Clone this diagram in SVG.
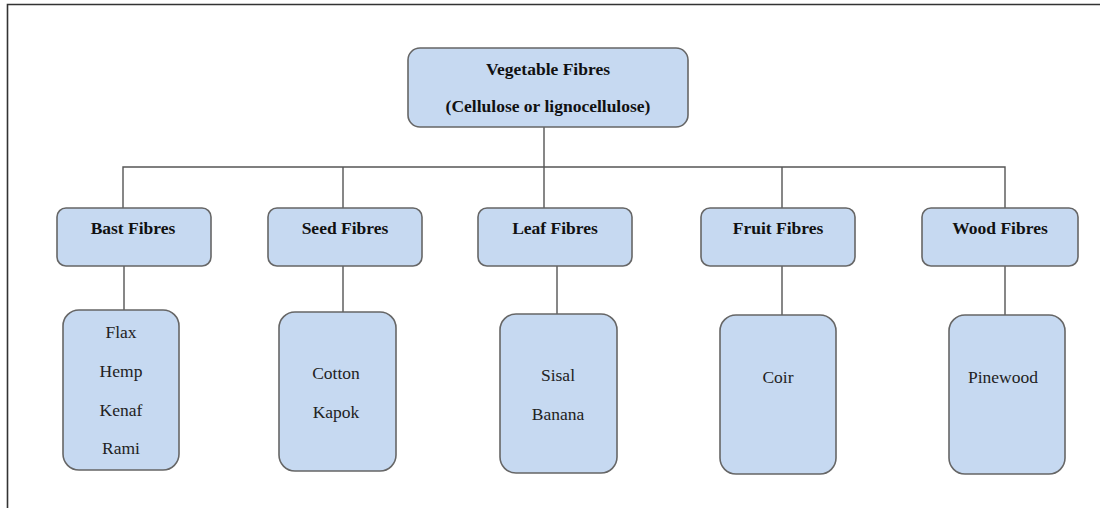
<svg xmlns="http://www.w3.org/2000/svg" width="1100" height="508" viewBox="0 0 1100 508">
<style>
.box{fill:#c6d9f1;stroke:#666;stroke-width:1.6}
.ln{stroke:#555;stroke-width:1.4;fill:none}
.h{font-family:'Liberation Serif','DejaVu Serif','Times New Roman',serif;font-weight:bold;font-size:17.5px;fill:#111;text-anchor:middle}
.t{font-family:'Liberation Serif','DejaVu Serif','Times New Roman',serif;font-size:17.5px;fill:#222;text-anchor:middle}
</style>
<rect width="1100" height="508" fill="#fff"/>
<path d="M7.5 508 V4.5 H1100" stroke="#333" stroke-width="1.6" fill="none"/>
<g id="connectors">
<path class="ln" d="M544 127 V167 M123 208 V167 H1005 V208 M343 167 V208 M544 167 V208 M782 167 V208"/>
<path class="ln" d="M124 266 V310 M343 266 V312 M557 266 V314 M782 266 V315 M1005 266 V315"/>
</g>
<g id="root"><rect class="box" x="408" y="48" width="280" height="79" rx="12"/>
<text class="h" x="548" y="75">Vegetable Fibres</text>
<text class="h" x="548" y="112">(Cellulose or lignocellulose)</text></g>
<g id="bast"><rect class="box" x="57" y="208" width="154" height="58" rx="9"/><text class="h" x="133" y="234">Bast Fibres</text></g>
<g id="seed"><rect class="box" x="268" y="208" width="154" height="58" rx="9"/><text class="h" x="345" y="234">Seed Fibres</text></g>
<g id="leaf"><rect class="box" x="478" y="208" width="154" height="58" rx="9"/><text class="h" x="555" y="234">Leaf Fibres</text></g>
<g id="fruit"><rect class="box" x="701" y="208" width="154" height="58" rx="9"/><text class="h" x="778" y="234">Fruit Fibres</text></g>
<g id="wood"><rect class="box" x="922" y="208" width="156" height="58" rx="9"/><text class="h" x="1000" y="234">Wood Fibres</text></g>
<g id="bast-list"><rect class="box" x="63" y="310" width="116" height="160" rx="16"/>
<text class="t" x="121" y="338">Flax</text><text class="t" x="121" y="377">Hemp</text><text class="t" x="121" y="416">Kenaf</text><text class="t" x="121" y="454">Rami</text></g>
<g id="seed-list"><rect class="box" x="279" y="312" width="117" height="159" rx="16"/>
<text class="t" x="336" y="379">Cotton</text><text class="t" x="336" y="418">Kapok</text></g>
<g id="leaf-list"><rect class="box" x="500" y="314" width="117" height="159" rx="16"/>
<text class="t" x="558" y="381">Sisal</text><text class="t" x="558" y="420">Banana</text></g>
<g id="fruit-list"><rect class="box" x="720" y="315" width="116" height="159" rx="16"/>
<text class="t" x="778" y="383">Coir</text></g>
<g id="wood-list"><rect class="box" x="949" y="315" width="116" height="159" rx="16"/>
<text class="t" x="1003" y="383">Pinewood</text></g>
</svg>
